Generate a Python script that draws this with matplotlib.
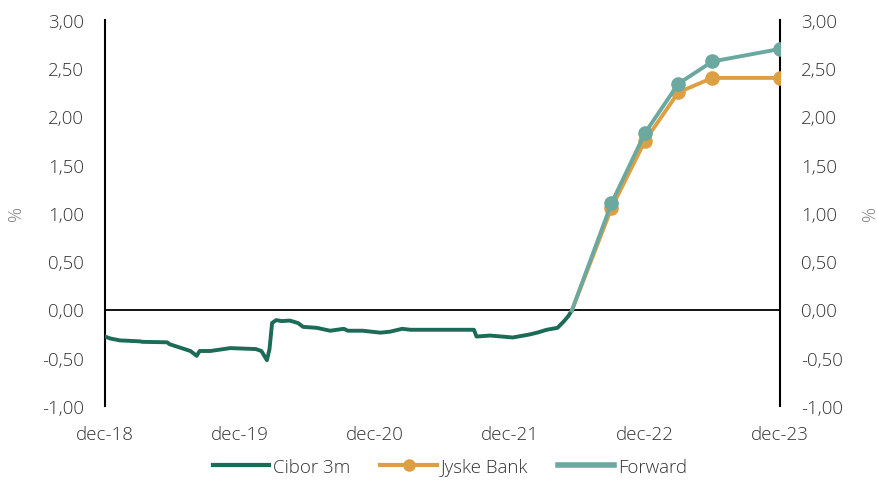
import matplotlib
matplotlib.use("Agg")
import matplotlib.pyplot as plt
from matplotlib.lines import Line2D
import pandas as pd

plt.rcParams["font.family"] = ["Open Sans", "DejaVu Sans"]
plt.rcParams["font.weight"] = "light"

# Cibor 3m
cibor_dates = [
    "2018-12-01", "2018-12-15", "2019-01-10", "2019-03-05", "2019-03-12",
    "2019-05-18", "2019-05-25", "2019-07-20", "2019-08-06", "2019-08-14",
    "2019-09-12", "2019-09-30", "2019-11-05", "2020-01-13", "2020-01-28",
    "2020-02-12", "2020-02-19", "2020-02-26", "2020-03-08", "2020-03-23",
    "2020-04-14", "2020-05-06", "2020-05-20", "2020-06-26", "2020-08-01",
    "2020-09-07", "2020-09-18", "2020-10-28", "2020-12-15", "2021-01-10",
    "2021-02-12", "2021-03-06", "2021-08-25", "2021-09-01", "2021-10-08",
    "2021-12-08", "2022-01-21", "2022-02-12", "2022-03-10", "2022-04-08",
    "2022-04-26", "2022-05-07", "2022-05-17",
]
cibor_vals = [
    -0.28, -0.30, -0.32, -0.33, -0.335,
    -0.34, -0.36, -0.43, -0.48, -0.43,
    -0.43, -0.42, -0.40, -0.41, -0.43,
    -0.525, -0.41, -0.14, -0.11, -0.12,
    -0.115, -0.14, -0.18, -0.19, -0.22,
    -0.20, -0.22, -0.22, -0.24, -0.23,
    -0.20, -0.21, -0.21, -0.28, -0.27,
    -0.29, -0.26, -0.24, -0.21, -0.19,
    -0.12, -0.07, -0.01,
]

# forecasts (start at last cibor fixing)
fc_dates = ["2022-05-17", "2022-09-01", "2022-12-01", "2023-03-01", "2023-06-01", "2023-12-01"]
jyske_vals = [-0.01, 1.05, 1.75, 2.25, 2.40, 2.40]
forward_vals = [-0.01, 1.10, 1.83, 2.34, 2.57, 2.70]

xtick_dates = ["2018-12-01", "2019-12-01", "2020-12-01", "2021-12-01", "2022-12-01", "2023-12-01"]
xtick_labels = ["dec-18", "dec-19", "dec-20", "dec-21", "dec-22", "dec-23"]
yticks = [-1.0, -0.5, 0.0, 0.5, 1.0, 1.5, 2.0, 2.5, 3.0]

c_cibor = "#1b6b57"
c_jyske = "#dca043"
c_fwd = "#6ba8a0"
txt = "#333333"
fs = 13.5

cd = pd.to_datetime(cibor_dates)
fd = pd.to_datetime(fc_dates)

fig = plt.figure(figsize=(8.78, 4.81), dpi=100)
ax = fig.add_axes([105/878, 1 - 407/481, 675/878, 386/481])

ax.axhline(0, color="black", lw=1.3, zorder=1)
ax.plot(cd, cibor_vals, color=c_cibor, lw=2.8, zorder=3)
ax.plot(fd[1:], jyske_vals[1:], color=c_jyske, lw=2.8, marker="o", ms=9.5, zorder=4)
ax.plot(fd[:2], jyske_vals[:2], color=c_jyske, lw=2.8, zorder=4)
ax.plot(fd, forward_vals, color=c_fwd, lw=2.8, zorder=5)
ax.plot(fd[1:], forward_vals[1:], color=c_fwd, lw=0, marker="o", ms=9.5, zorder=5)

ax.set_xlim(pd.Timestamp("2018-12-01"), pd.Timestamp("2023-12-01"))
ax.set_ylim(-1, 3)
ax.set_yticks(yticks)
ax.set_yticklabels([f"{v:.2f}".replace(".", ",") for v in yticks])
ax.set_xticks(pd.to_datetime(xtick_dates))
ax.set_xticklabels(xtick_labels)

for s in ["top", "bottom"]:
    ax.spines[s].set_visible(False)
for s in ["left", "right"]:
    ax.spines[s].set_linewidth(1.5)
    ax.spines[s].set_color("black")

ax.tick_params(axis="both", length=0, labelsize=fs, colors=txt)
ax.tick_params(axis="y", pad=15)
ax.tick_params(axis="x", pad=14)

ax2 = ax.twinx()
ax2.set_ylim(-1, 3)
ax2.set_yticks(yticks)
ax2.set_yticklabels([f"{v:.2f}".replace(".", ",") for v in yticks])
for s in ax2.spines.values():
    s.set_visible(False)
ax2.tick_params(axis="y", length=0, labelsize=fs, colors=txt, pad=15)

fig.text(16/878, 1 - 213/481, "%", rotation=90, color="#808080", fontsize=fs,
         ha="center", va="center")
fig.text(870/878, 1 - 213/481, "%", rotation=90, color="#808080", fontsize=fs,
         ha="center", va="center")

handles = [
    Line2D([], [], color=c_cibor, lw=3),
    Line2D([], [], color=c_jyske, lw=3, marker="o", ms=8),
    Line2D([], [], color=c_fwd, lw=4),
]
fig.legend(handles, ["Cibor 3m", "Jyske Bank", "Forward"], loc="center",
           bbox_to_anchor=(450/878, 1 - 468/481), ncol=3, frameon=False,
           fontsize=fs, labelcolor=txt, handlelength=3.0, handletextpad=0.2,
           columnspacing=1.6)

fig.savefig("out.png", dpi=100)
